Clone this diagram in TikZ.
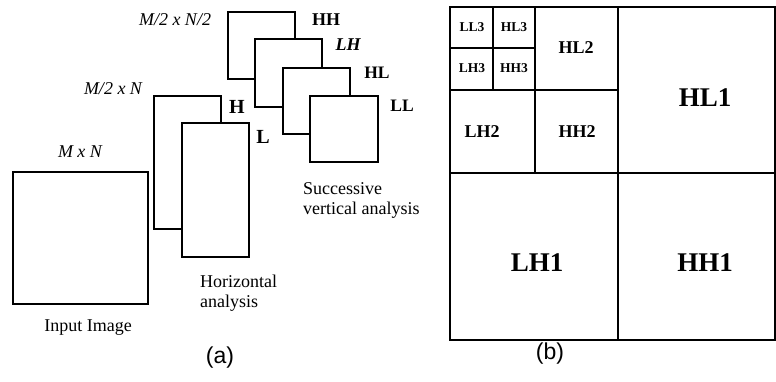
\documentclass[tikz,border=0pt]{standalone}
\usepackage{fontspec}
\setmainfont{Liberation Serif}
\newfontfamily\capfont{Liberation Sans}
\begin{document}
\begin{tikzpicture}[x=1pt,y=-1pt,
  box/.style={draw=black,line width=1.6pt,fill=white},
  grid/.style={draw=black,line width=1.5pt},
  dim/.style={font=\fontsize{18}{20}\selectfont\itshape,inner sep=0pt},
  band/.style={font=\fontsize{18}{20}\selectfont\bfseries,inner sep=0pt},
  captxt/.style={font=\fontsize{18}{20}\selectfont,inner sep=0pt,align=left},
  sub/.style={font=\capfont\fontsize{23}{26}\selectfont,inner sep=0pt},
  lvthree/.style={font=\fontsize{13.5}{15}\selectfont\bfseries,inner sep=0pt},
  lvtwo/.style={font=\fontsize{18}{20}\selectfont\bfseries,inner sep=0pt},
  lvone/.style={font=\fontsize{27}{30}\selectfont\bfseries,inner sep=0pt}]
\useasboundingbox (0,0) rectangle (776,381);
% ---------- (a) ----------
\draw[box] (13,172) rectangle (148,304);
\node[dim] (mn) at (80,152) {M x N};
\node[captxt] (inp) at (88,328) {Input Image};
% horizontal analysis
\draw[box] (154,96) rectangle (221,229);
\draw[box] (182,123) rectangle (249,257);
\node[band,font=\fontsize{20}{22}\selectfont\bfseries] (H) at (237,107) {H};
\node[band,font=\fontsize{20}{22}\selectfont\bfseries] (L) at (263,137) {L};
\node[dim] (m2n) at (113,89) {M/2 x N};
\node[captxt,anchor=west] (hor) at (200,293) {Horizontal\\analysis};
% vertical analysis
\draw[box] (228,12) rectangle (295,79);
\draw[box] (255,39) rectangle (322,107);
\draw[box] (283,68) rectangle (350,134);
\draw[box] (310,96) rectangle (378,162);
\node[band] (HH) at (326,20) {HH};
\node[band,font=\fontsize{18}{20}\selectfont\bfseries\itshape] (LH) at (348,45) {LH};
\node[band,font=\fontsize{17.5}{19}\selectfont\bfseries] (HL) at (377,73) {HL};
\node[band,font=\fontsize{17.5}{19}\selectfont\bfseries] (LL) at (402,106) {LL};
\node[dim] (m2n2) at (175,20) {M/2 x N/2};
\node[captxt,anchor=west] (ver) at (303,200) {Successive\\vertical analysis};
\node[sub] (a) at (220,358) {(a)};
% ---------- (b) ----------
\draw[grid] (450,7) rectangle (775,340);
\draw[grid] (618,7) -- (618,340);
\draw[grid] (450,173) -- (775,173);
\draw[grid] (535,7) -- (535,173);
\draw[grid] (450,90) -- (618,90);
\draw[grid] (493,7) -- (493,90);
\draw[grid] (450,48) -- (535,48);
\node[lvthree] (ll3) at (472,27) {LL3};
\node[lvthree] (hl3) at (514,27) {HL3};
\node[lvthree] (lh3) at (472,68) {LH3};
\node[lvthree] (hh3) at (514,68) {HH3};
\node[lvtwo] (hl2) at (576,48) {HL2};
\node[lvtwo] (lh2) at (482,132) {LH2};
\node[lvtwo] (hh2) at (577,132) {HH2};
\node[lvone] (hl1) at (705,98) {HL1};
\node[lvone] (lh1) at (537,263) {LH1};
\node[lvone] (hh1) at (705,263) {HH1};
\node[sub] (b) at (550,354) {(b)};
\end{tikzpicture}
\end{document}
